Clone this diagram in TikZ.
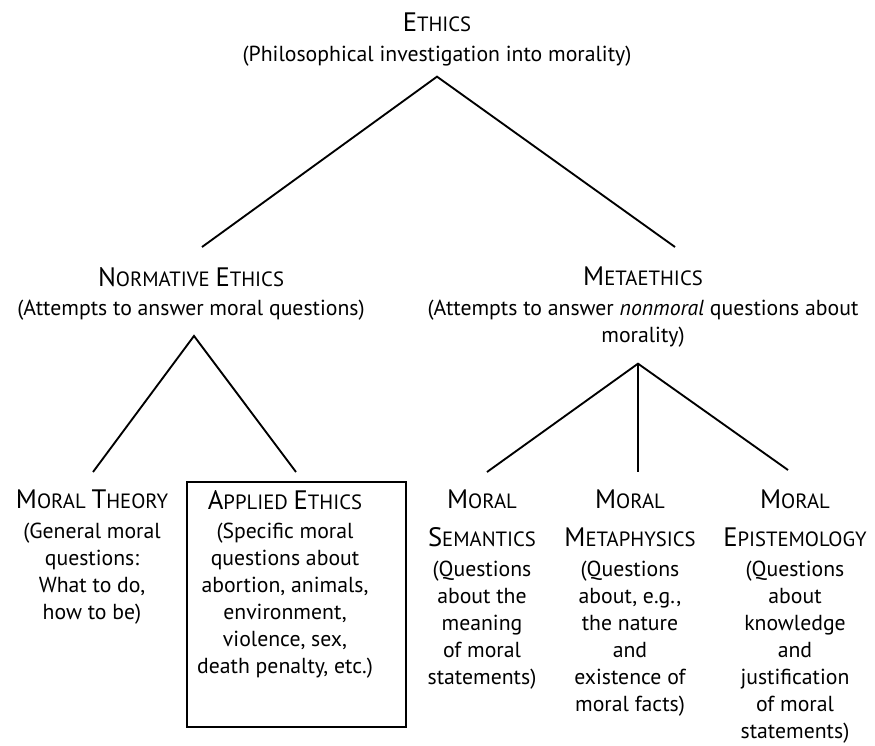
\documentclass[tikz,border=0pt]{standalone}
\usepackage{fontspec}
\setmainfont{PT Sans}
\usetikzlibrary{positioning, calc}
\newcommand{\heading}[2]{{\fontsize{20}{24}\selectfont #1}{\fontsize{15.5}{20}\selectfont #2}}

\begin{document}
\begin{tikzpicture}[
  x=0.75pt, y=-0.75pt,
  branch/.style={align=center, inner sep=0pt, anchor=north, font=\fontsize{16.3}{20.25}\selectfont},
  link/.style={line width=1.4pt},
  framebox/.style={draw, line width=1.4pt, minimum width=164.25pt, minimum height=183.75pt, inner sep=0pt}
]
  \useasboundingbox (0,0) rectangle (875,746);

  % Top level
  \node[branch] (ethics) at (437,13) {\heading{E}{THICS}\\[2pt](Philosophical investigation into morality)};

  % Second level
  \node[branch] (normative) at (191,267) {\heading{N}{ORMATIVE} \heading{E}{THICS}\\[2pt](Attempts to answer moral questions)};
  \node[branch] (meta) at (643,267) {\heading{M}{ETAETHICS}\\[2pt](Attempts to answer \emph{nonmoral} questions about\\morality)};

  % Bottom level
  \node[branch] (theory) at (92,490) {\heading{M}{ORAL} \heading{T}{HEORY}\\[2pt](General moral\\questions:\\What to do,\\how to be)};
  \node[branch] (applied) at (285,490) {\heading{A}{PPLIED} \heading{E}{THICS}\\[2pt](Specific moral\\questions about\\abortion, animals,\\environment,\\violence, sex,\\death penalty, etc.)};
  \node[framebox] (appliedbox) at (296.5,604.5) {};
  \node[branch] (semantics) at (482,490) {\heading{M}{ORAL}\\[8pt]\heading{S}{EMANTICS}\\[2pt](Questions\\about the\\meaning\\of moral\\statements)};
  \node[branch] (metaphysics) at (630,490) {\heading{M}{ORAL}\\[8pt]\heading{M}{ETAPHYSICS}\\[2pt](Questions\\about, e.g.,\\the nature\\and\\existence of\\moral facts)};
  \node[branch] (epistemology) at (795,490) {\heading{M}{ORAL}\\[8pt]\heading{E}{PISTEMOLOGY}\\[2pt](Questions\\about\\knowledge\\and\\justification\\of moral\\statements)};

  % Forks
  \coordinate (ethics-fork) at ($(ethics.south)+(0,10)$);
  \coordinate (normative-fork) at ($(normative.south)+(3,15)$);
  \coordinate (meta-fork) at ($(meta.south)+(-5,16)$);

  \draw[link] ($(normative.north)+(11,-20)$) -- (ethics-fork) -- ($(meta.north)+(32,-20)$);
  \draw[link] ($(theory.north)+(1,-18)$) -- (normative-fork) -- ($(applied.north)+(11,-18)$);
  \draw[link] ($(semantics.north)+(5,-18)$) -- (meta-fork) -- ($(epistemology.north)+(-7,-20)$);
  \draw[link] (meta-fork) -- ($(metaphysics.north)+(8,-18)$);
\end{tikzpicture}
\end{document}
